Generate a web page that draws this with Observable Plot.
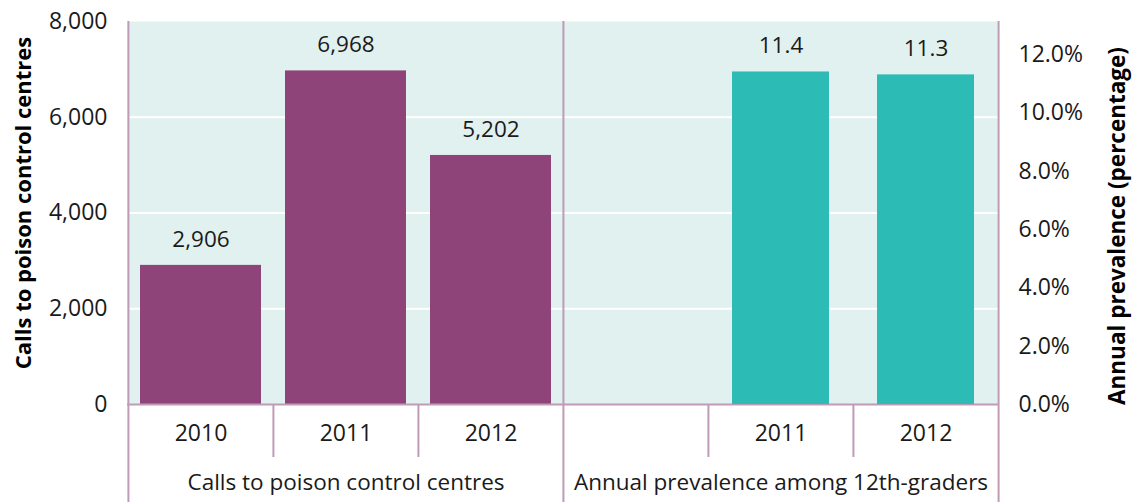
<!DOCTYPE html>
<html><head><meta charset="utf-8">
<script src="https://cdn.jsdelivr.net/npm/d3@7"></script>
<script src="https://cdn.jsdelivr.net/npm/@observablehq/plot@0.6"></script>
<style>
body{margin:0;background:#fff;}
#wrap{position:relative;width:1132px;height:502px;}
#wrap svg{position:absolute;left:0;top:0;}
</style></head><body><div id="wrap"></div>
<script>
const groups = ["Calls to poison control centres", "Annual prevalence among 12th-graders"];
const slotYears = ["2010", "2011", "2012"];
const callYears = ["2010", "2011", "2012"];
const calls = [2906, 6968, 5202];
const prevYears = ["2011", "2012"];
const prevalence = [11.4, 11.3];
const callTicks = [0, 2000, 4000, 6000, 8000];
const gridTicks = [2000, 4000, 6000];
const prevTicks = [0, 2, 4, 6, 8, 10, 12];
const callTitle = "Calls to poison control centres";
const prevTitle = "Annual prevalence (percentage)";

const W = 1132, H = 502, mL = 127, mR = 134, mT = 21, mB = 98;
const BW = (W - mL - mR) / 6;
const FONT = "'Open Sans', 'Noto Sans', sans-serif";
const BG = "#e1f1f0", PURPLE = "#8f4479", TEAL = "#2dbbb5", LINE = "#bf9bb8", TXT = "#1a1a1a";
const FS = 23;

const slot = (g, y) => g + "|" + y;
const slots = groups.flatMap(g => slotYears.map(y => slot(g, y)));
const callData = callYears.map((y, i) => ({slot: slot(groups[0], y), year: y, value: calls[i]}));
const prevData = prevYears.map((y, i) => ({slot: slot(groups[1], y), year: y, value: prevalence[i]}));
const yearLabels = [...callData, ...prevData];
const groupLabels = groups.map(g => ({slot: slot(g, "2011"), text: g}));
const innerSeps = groups.flatMap(g => ["2011", "2012"].map(y => slot(g, y)));
const fullSeps = groups.map(g => slot(g, "2010"));
const lastSlot = [slots[slots.length - 1]];

const common = {
  width: W, height: H, marginLeft: mL, marginRight: mR, marginTop: mT, marginBottom: mB,
  x: {type: "band", domain: slots, padding: 0, axis: null},
  style: {fontFamily: FONT, fontSize: FS + "px", color: TXT, background: "transparent", overflow: "visible"}
};

const p1 = Plot.plot({
  ...common,
  y: {domain: [0, 8000], axis: null},
  marks: [
    Plot.frame({fill: BG, stroke: null}),
    Plot.ruleY(gridTicks, {stroke: "white", strokeWidth: 2}),
    Plot.barY(callData, {x: "slot", y: "value", fill: PURPLE, insetLeft: 12, insetRight: 12}),
    Plot.text(callData, {x: "slot", y: "value", text: d => d3.format(",")(d.value), dy: -26, fill: TXT, fontSize: 22.5}),
    Plot.axisY(callTicks, {tickSize: 0, tickPadding: 20, tickFormat: d3.format(","), label: null, fill: TXT}),
    Plot.text([callTitle], {text: d => d, frameAnchor: "left", textAnchor: "middle", rotate: -90, dx: -104, dy: -10, fontWeight: "bold", fontSize: 22, fill: "#000"}),
    Plot.ruleY([0], {stroke: LINE, strokeWidth: 2}),
    Plot.ruleX(innerSeps, {x: d => d, dx: -BW / 2, stroke: LINE, strokeWidth: 2, insetTop: 383, insetBottom: -53}),
    Plot.ruleX(fullSeps, {x: d => d, dx: -BW / 2, stroke: LINE, strokeWidth: 2, insetBottom: -98}),
    Plot.ruleX(lastSlot, {x: d => d, dx: BW / 2, stroke: LINE, strokeWidth: 2, insetBottom: -98}),
    Plot.text(yearLabels, {x: "slot", text: "year", frameAnchor: "bottom", dy: 36, fill: TXT}),
    Plot.text(groupLabels, {x: "slot", text: "text", frameAnchor: "bottom", dy: 85, fill: TXT, fontSize: 22.5})
  ]
});

const p2 = Plot.plot({
  ...common,
  y: {domain: [0, 13.13], axis: null},
  marks: [
    Plot.barY(prevData, {x: "slot", y: "value", fill: TEAL, insetLeft: 24, insetRight: 24}),
    Plot.text(prevData, {x: "slot", y: "value", text: d => d3.format(".1f")(d.value), dy: -26, fill: TXT, fontSize: 22.5}),
    Plot.axisY(prevTicks, {anchor: "right", tickSize: 0, tickPadding: 20, tickFormat: d => d3.format(".1f")(d) + "%", label: null, fill: TXT}),
    Plot.text([prevTitle], {text: d => d, frameAnchor: "right", textAnchor: "middle", rotate: -90, dx: 119, dy: 13, fontWeight: "bold", fontSize: 22.5, fill: "#000"})
  ]
});

document.getElementById("wrap").append(p1, p2);
</script>
</body></html>
